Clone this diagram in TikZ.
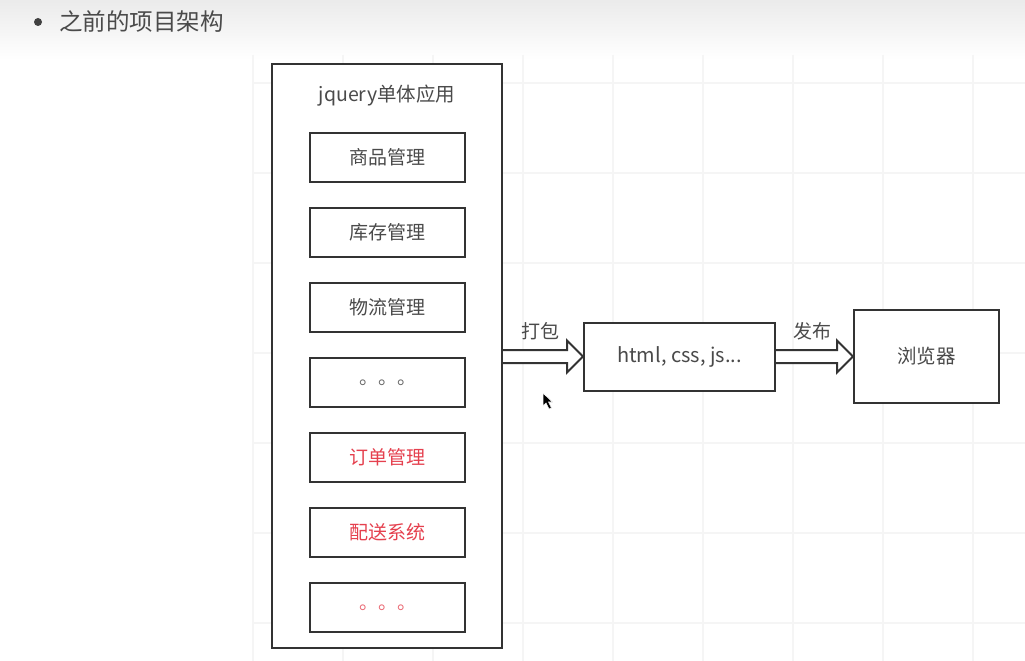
\documentclass[tikz,border=0pt]{standalone}
\usepackage{fontspec}
\setmainfont{Noto Sans CJK SC}
\usetikzlibrary{calc}
\definecolor{ink}{HTML}{333333}
\definecolor{label}{HTML}{4A4A4A}
\definecolor{alert}{HTML}{E5404E}
\definecolor{gridline}{HTML}{F5F5F5}
\newcommand\blockarrow[2]{%
  \draw[blockline] ($(#1)+(0,-6.5)$) -- ($(#2)+(-16,-6.5)$) -- ($(#2)+(-16,-16)$)
    -- (#2) -- ($(#2)+(-16,16)$) -- ($(#2)+(-16,6.5)$) -- ($(#1)+(0,6.5)$);}
\begin{document}
\begin{tikzpicture}[x=1pt,y=-1pt,
  box/.style={draw=ink,line width=2pt,fill=white,inner sep=0pt},
  module/.style={box,minimum width=155pt,minimum height=49pt,text=label,
    font=\fontsize{19}{19}\selectfont},
  blockline/.style={draw=ink,line width=2pt,fill=white,line join=miter},
  tag/.style={text=label,font=\fontsize{19}{19}\selectfont,inner sep=0pt}]
\useasboundingbox (0,0) rectangle (1025,661);
\fill[white] (0,0) rectangle (1025,661);
% header band
\shade[top color=black!8,bottom color=white] (0,0) rectangle (1025,60);
\fill[black!75] (38,22) circle (4);
\node[anchor=west,text=label,font=\fontsize{23.5}{23.5}\selectfont,inner sep=0pt] (heading) at (59,22) {之前的项目架构};
% faint canvas grid
\foreach \gx in {253,343,...,973} \draw[gridline,line width=1.2pt] (\gx,55) -- (\gx,661);
\foreach \gy in {83,173,...,623} \draw[gridline,line width=1.2pt] (253,\gy) -- (1025,\gy);
% monolithic app
\node[box,minimum width=230pt,minimum height=584pt] (app) at (387,356) {};
\node[tag,font=\fontsize{19.5}{19.5}\selectfont] (apptitle) at (387,96) {jquery单体应用};
\node[module] (m1) at (387.5,157.5) {商品管理};
\node[module] (m2) at (387.5,232.5) {库存管理};
\node[module] (m3) at (387.5,307.5) {物流管理};
\node[module,text=black!60] (m4) at (387.5,382.5) {\raisebox{-5pt}{。。。}};
\node[module,text=alert] (m5) at (387.5,457.5) {订单管理};
\node[module,text=alert] (m6) at (387.5,532.5) {配送系统};
\node[module,text=alert!80] (m7) at (387.5,607.5) {\raisebox{-1pt}{。。。}};
% build output and browser
\node[box,minimum width=191pt,minimum height=68pt,text=label,
  font=\fontsize{20}{20}\selectfont] (bundle) at (679.5,356.5) {html, css, js...};
\node[box,minimum width=145pt,minimum height=93pt,text=label,
  font=\fontsize{19.5}{19.5}\selectfont] (browser) at (926.5,356.5) {浏览器};
\coordinate (pkgstart) at (app.east |- bundle.west);
\coordinate (pubstart) at (bundle.east |- browser.west);
\blockarrow{pkgstart}{bundle.west}
\blockarrow{pubstart}{browser.west}
\node[tag] (pkg) at (540,331) {打包};
\node[tag] (pub) at (812,331) {发布};
% mouse pointer
\filldraw[fill=black,draw=white,line width=0.6pt]
  (543,393) -- (543,406) -- (546,403) -- (549,409) -- (551.5,408) -- (548.5,402) -- (552.5,402) -- cycle;
\end{tikzpicture}
\end{document}
